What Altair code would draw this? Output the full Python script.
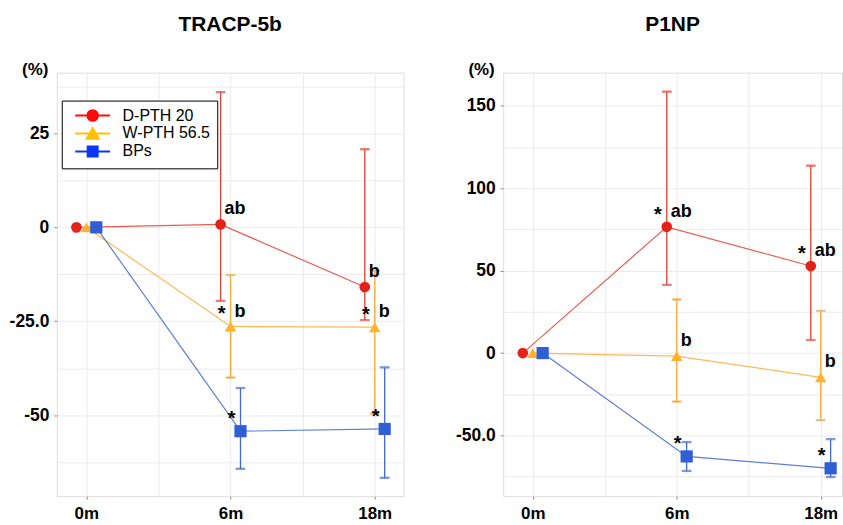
import altair as alt
import pandas as pd

FONT = "Liberation Sans"

times = ["0m", "6m", "18m"]
series = ["D-PTH 20", "W-PTH 56.5", "BPs"]
shapes = ["circle", "triangle-up", "square"]
marker_sizes = [115, 150, 100]
line_colors = ["#e8402f", "#ffab3c", "#4169d4"]
marker_colors = ["#e2231a", "#ffb22a", "#2f5fd3"]
legend_colors = ["#ff0a0a", "#ffc000", "#0a36f5"]
# legend glyphs: a line with the marker on it (unit box = half the symbol width)
legend_paths = [
    "M-3.18,0H3.18M0.97,0A0.97,0.97,0,1,1,-0.97,0A0.97,0.97,0,1,1,0.97,0Z",
    "M-3.18,0H3.18M0,-0.95L1.1,0.95L-1.1,0.95Z",
    "M-3.18,0H3.18M-0.91,-0.91H0.91V0.91H-0.91Z",
]

# ---- TRACP-5b (% change) ----
tracp_d_mean = [0, 0.8, -15.9]
tracp_d_lo = [None, -19.6, -24.7]
tracp_d_hi = [None, 36.0, 20.8]
tracp_w_mean = [0, -26.4, -26.6]
tracp_w_lo = [None, -40.0, -49.6]
tracp_w_hi = [None, -12.7, -11.5]
tracp_b_mean = [0, -54.3, -53.7]
tracp_b_lo = [None, -64.3, -66.7]
tracp_b_hi = [None, -42.8, -37.3]
tracp_d_star = ["", "", ""]
tracp_w_star = ["", "*", "*"]
tracp_b_star = ["", "*", "*"]
tracp_d_letter = ["", "ab", "b"]
tracp_w_letter = ["", "b", "b"]
tracp_b_letter = ["", "", ""]

# ---- P1NP (% change) ----
p1np_d_mean = [0, 76.6, 52.8]
p1np_d_lo = [None, 41.4, 7.9]
p1np_d_hi = [None, 158.6, 113.7]
p1np_w_mean = [0, -1.8, -14.7]
p1np_w_lo = [None, -29.4, -40.7]
p1np_w_hi = [None, 32.5, 25.6]
p1np_b_mean = [0, -62.7, -69.9]
p1np_b_lo = [None, -71.5, -75.2]
p1np_b_hi = [None, -54.0, -52.2]
p1np_d_star = ["", "*", "*"]
p1np_w_star = ["", "", ""]
p1np_b_star = ["", "*", "*"]
p1np_d_letter = ["", "ab", "ab"]
p1np_w_letter = ["", "b", "b"]
p1np_b_letter = ["", "", ""]

# axis ticks
tracp_yticks = [25, 0, -25, -50]
tracp_ylabels = ["25", "0", "-25.0", "-50"]
tracp_yminor = [37.5, 12.5, -12.5, -37.5, -62.5]
p1np_yticks = [150, 100, 50, 0, -50]
p1np_ylabels = ["150", "100", "50", "0", "-50.0"]
p1np_yminor = [125, 75, 25, -25, -75]
x_ticks = [0, 1, 2]
x_minor = [0.5, 1.5]

DODGE = 0.069


def build_frame(means, los, his, stars, letters):
    rows = []
    for k, s in enumerate(series):
        for i, t in enumerate(times):
            rows.append(dict(series=s, time=t, x=i + (k - 1) * DODGE,
                             mean=means[k][i], lo=los[k][i], hi=his[k][i],
                             star=stars[k][i], letter=letters[k][i]))
    return pd.DataFrame(rows)


tracp_df = build_frame(
    [tracp_d_mean, tracp_w_mean, tracp_b_mean],
    [tracp_d_lo, tracp_w_lo, tracp_b_lo],
    [tracp_d_hi, tracp_w_hi, tracp_b_hi],
    [tracp_d_star, tracp_w_star, tracp_b_star],
    [tracp_d_letter, tracp_w_letter, tracp_b_letter])
p1np_df = build_frame(
    [p1np_d_mean, p1np_w_mean, p1np_b_mean],
    [p1np_d_lo, p1np_w_lo, p1np_b_lo],
    [p1np_d_hi, p1np_w_hi, p1np_b_hi],
    [p1np_d_star, p1np_w_star, p1np_b_star],
    [p1np_d_letter, p1np_w_letter, p1np_b_letter])


def label_expr(values, labels):
    parts = [f"datum.value == {v} ? '{l}'" for v, l in zip(values, labels)]
    return " : ".join(parts) + " : ''"


def tick_cond(values):
    return {"condition": {"test": f"indexof({list(values)}, datum.value) >= 0", "value": 1}, "value": 0}


def panel(df, title, xmax, width, ydomain, yticks, ylabels, yminor, show_legend):
    base = alt.Chart(df)
    x = alt.X("x:Q", scale=alt.Scale(domain=[-0.205, xmax], nice=False, zero=False),
              axis=alt.Axis(values=sorted(x_ticks + x_minor), labelExpr=label_expr(x_ticks, times),
                            title=None, grid=True, gridColor="#ebebeb", domain=False,
                            tickSize=3, tickColor="#8a8a8a", tickOpacity=tick_cond(x_ticks),
                            labelFontSize=17, labelFont=FONT, labelFontWeight="bold",
                            labelColor="black", labelPadding=6, labelFlush=False))
    yaxis = alt.Axis(values=sorted(yticks + yminor), labelExpr=label_expr(yticks, ylabels),
                     title="(%)", titleAngle=0, titleAlign="right", titleBaseline="alphabetic",
                     titleX=-9, titleY=2, titleFontSize=17, titleFont=FONT,
                     titleFontWeight="bold", titleColor="black",
                     grid=True, gridColor="#ebebeb", domain=False,
                     tickSize=3, tickColor="#8a8a8a", tickOpacity=tick_cond(yticks),
                     labelFontSize=17.5, labelFont=FONT, labelFontWeight="bold",
                     labelColor="black", labelPadding=5, labelFlush=False)
    yscale = alt.Scale(domain=ydomain, nice=False, zero=False)

    def sc(rng):
        return alt.Scale(domain=series, range=rng)

    lines = base.mark_line(strokeWidth=1.2, opacity=0.85).encode(
        x=x, y=alt.Y("mean:Q", scale=yscale, axis=yaxis),
        stroke=alt.Stroke("series:N", scale=sc(line_colors), legend=None),
        detail="series:N")

    bars_base = base.transform_filter("isValid(datum.lo)")
    rules = bars_base.mark_rule(strokeWidth=1.3).encode(
        x=x, y="lo:Q", y2="hi:Q",
        stroke=alt.Stroke("series:N", scale=sc(line_colors), legend=None))
    caps = bars_base.transform_fold(["lo", "hi"], as_=["end", "val"]).mark_tick(
        orient="horizontal", size=9, thickness=1.3).encode(
        x=x, y="val:Q",
        stroke=alt.Stroke("series:N", scale=sc(line_colors), legend=None))

    points = base.mark_point(filled=True, opacity=1).encode(
        x=x, y="mean:Q",
        fill=alt.Fill("series:N", scale=sc(marker_colors), legend=None),
        shape=alt.Shape("series:N", scale=sc(shapes), legend=None),
        size=alt.Size("series:N", scale=sc(marker_sizes), legend=None))

    stars = base.transform_filter("datum.star != ''").mark_text(
        font=FONT, fontSize=20, fontWeight="bold", color="black",
        align="center", baseline="middle", dx=-9, dy=-12).encode(
        x=x, y="mean:Q", text="star:N")
    letters = base.transform_filter("datum.letter != ''").mark_text(
        font=FONT, fontSize=18, fontWeight="bold", color="black",
        align="left", baseline="middle", dx=4, dy=-15).encode(
        x=x, y="mean:Q", text="letter:N")

    layers = [lines, rules, caps, points, stars, letters]
    if show_legend:
        leg = alt.Legend(title=None, orient="none", legendX=5, legendY=28,
                         symbolSize=121, symbolStrokeWidth=2, symbolOffset=16,
                         symbolOpacity=1, labelOffset=22,
                         labelFontSize=16, labelFont=FONT, labelColor="black",
                         padding=7, rowPadding=-2.5,
                         fillColor="white", strokeColor="black")
        legend_layer = base.transform_filter("false").mark_point(
            filled=False, opacity=1, strokeWidth=2).encode(
            x=x, y="mean:Q",
            shape=alt.Shape("series:N", scale=sc(legend_paths), legend=leg),
            fill=alt.Fill("series:N", scale=sc(legend_colors), legend=leg),
            stroke=alt.Stroke("series:N", scale=sc(legend_colors), legend=leg))
        layers.append(legend_layer)

    return alt.layer(*layers).resolve_scale(
        stroke="independent", fill="independent", shape="independent", size="independent"
    ).properties(
        width=width, height=425,
        title=alt.TitleParams(text=title, fontSize=21, fontWeight="bold", font=FONT,
                              color="black", anchor="middle", offset=26))


left = panel(tracp_df, "TRACP-5b", 2.2, 348, [-71.6, 41.2],
             tracp_yticks, tracp_ylabels, tracp_yminor, True)
right = panel(p1np_df, "P1NP", 2.148, 340, [-86.8, 170.1],
              p1np_yticks, p1np_ylabels, p1np_yminor, False)

chart = alt.hconcat(left, right, spacing=50).resolve_scale(
    x="independent", y="independent", stroke="independent",
    fill="independent", shape="independent", size="independent"
).properties(
    padding={"left": 8, "top": 12, "right": 0, "bottom": 0}
).configure_view(stroke="#9a9a9a", strokeWidth=1).configure(background="white")

chart.save("out.html", embed_options={"renderer": "svg", "actions": False})
